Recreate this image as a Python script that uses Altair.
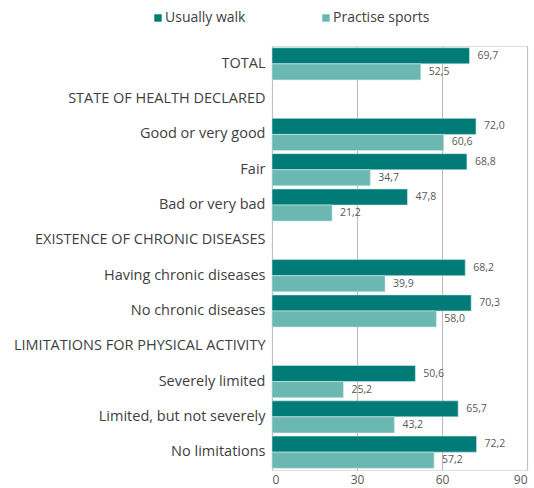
import altair as alt
import pandas as pd

categories = [
    "TOTAL",
    "STATE OF HEALTH DECLARED",
    "Good or very good",
    "Fair",
    "Bad or very bad ",
    "EXISTENCE OF CHRONIC DISEASES",
    "Having chronic diseases",
    "No chronic diseases",
    "LIMITATIONS FOR PHYSICAL ACTIVITY",
    "Severely limited",
    "Limited, but not severely",
    "No limitations",
]
bar_categories = [
    "TOTAL",
    "Good or very good",
    "Fair",
    "Bad or very bad ",
    "Having chronic diseases",
    "No chronic diseases",
    "Severely limited",
    "Limited, but not severely",
    "No limitations",
]
usually_walk = [69.7, 72.0, 68.8, 47.8, 68.2, 70.3, 50.6, 65.7, 72.2]
practise_sports = [52.5, 60.6, 34.7, 21.2, 39.9, 58.0, 25.2, 43.2, 57.2]
series = ["Usually walk", "Practise sports"]
colors = ["#007B78", "#6BB8B3"]
x_ticks = [0, 30, 60, 90]

rows = []
for c, w, s in zip(bar_categories, usually_walk, practise_sports):
    for name, v in zip(series, [w, s]):
        rows.append({"cat": c, "series": name, "value": v,
                     "label": f"{v:.1f}".replace(".", ",")})
df = pd.DataFrame(rows)

FONT = "Open Sans"

y_enc = alt.Y("cat:N", sort=categories,
              scale=alt.Scale(domain=categories, paddingInner=0.09, paddingOuter=0.05),
              axis=alt.Axis(title=None, ticks=False, domain=False, labelFontSize=14.5,
                            labelColor="#404040", labelPadding=7, labelLimit=400,
                            labelFont=FONT))
yoff = alt.YOffset("series:N", sort=series, scale=alt.Scale(domain=series, paddingInner=0, paddingOuter=0))
x_enc = alt.X("value:Q", scale=alt.Scale(domain=[0, 90], nice=False),
              axis=alt.Axis(title=None, values=x_ticks, ticks=False, domain=False,
                            grid=True, gridColor="#BFBFBF", gridWidth=1.2,
                            labelFontSize=12, labelColor="#595959", labelPadding=4,
                            labelFont=FONT))

bars = alt.Chart(df).mark_bar(stroke="#CFE8E6", strokeWidth=0.6).encode(
    x=x_enc,
    y=y_enc,
    yOffset=yoff,
    color=alt.Color("series:N", sort=series,
                    scale=alt.Scale(domain=series, range=colors),
                    legend=alt.Legend(title=None, orient="none", direction="horizontal",
                                      legendX=-121, legendY=-35, symbolType="square",
                                      symbolSize=55, symbolStrokeWidth=0,
                                      labelFontSize=14, labelColor="#404040",
                                      labelFont=FONT, labelOffset=0, columnPadding=73)),
)

texts = alt.Chart(df).mark_text(align="left", baseline="middle", dx=8, fontSize=10.5,
                                color="#595959", font=FONT).encode(
    x="value:Q",
    y=alt.Y("cat:N", sort=categories),
    yOffset=alt.YOffset("series:N", sort=series),
    text="label:N",
)

chart = alt.layer(bars, texts).properties(
    width=255, height=424,
    padding={"left": 272, "top": 46, "right": 7, "bottom": 18},
    autosize=alt.AutoSizeParams(type="none"),
).configure_view(stroke=None).configure(font=FONT)

chart.save("out.html", embed_options={"renderer": "svg", "actions": False})
